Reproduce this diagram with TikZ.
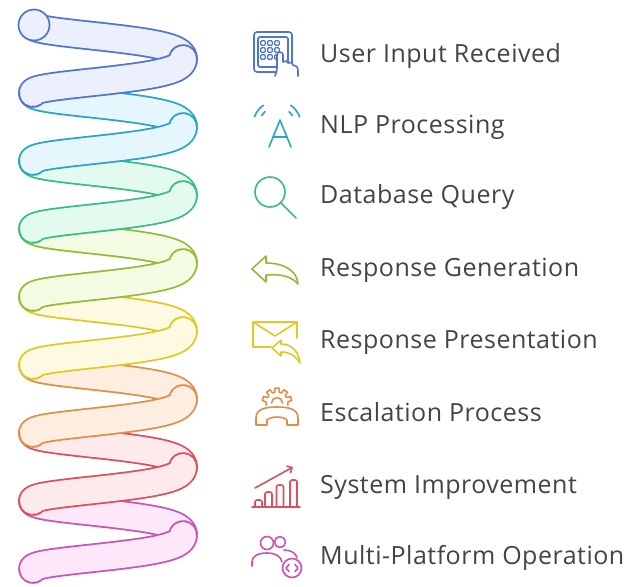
\documentclass[tikz,border=0pt]{standalone}
\usepackage{fontspec}
\setmainfont{Open Sans}[LetterSpace=2.0]
\usepackage{tikz}
\usetikzlibrary{arrows.meta, positioning}

\definecolor{coilBlue}{RGB}{79,116,209}
\definecolor{coilCyan}{RGB}{38,165,200}
\definecolor{coilGreen}{RGB}{58,188,136}
\definecolor{coilLime}{RGB}{146,188,52}
\definecolor{coilGold}{RGB}{222,202,32}
\definecolor{coilOrange}{RGB}{223,144,70}
\definecolor{coilRed}{RGB}{218,80,92}
\definecolor{coilPink}{RGB}{204,82,180}
\definecolor{blueFill}{RGB}{235,240,252}
\definecolor{cyanFill}{RGB}{229,247,253}
\definecolor{greenFill}{RGB}{227,250,238}
\definecolor{limeFill}{RGB}{243,252,226}
\definecolor{goldFill}{RGB}{254,250,225}
\definecolor{orangeFill}{RGB}{253,238,225}
\definecolor{redFill}{RGB}{253,234,236}
\definecolor{pinkFill}{RGB}{252,232,248}
\definecolor{labelText}{RGB}{68,68,68}

\tikzset{
    tubeedge/.style={line width=29.6pt, line cap=round, draw=#1},
    tubebody/.style={line width=26pt, line cap=round, draw=#1},
    icon/.style={draw=#1, line width=1.6pt, line cap=round, line join=round},
    lbl/.style={anchor=base west, inner sep=0pt, text=labelText, font=\fontsize{25}{29}\selectfont}
}

\begin{document}
\begin{tikzpicture}[x=1pt, y=-1pt]
    \useasboundingbox[fill=white] (0,0) rectangle (628,586);

    % spring: back halves first, then the front halves over them
    \foreach \col/\fil [count=\k from 0] in {coilBlue/blueFill, coilCyan/cyanFill, coilGreen/greenFill, coilLime/limeFill,
        coilGold/goldFill, coilOrange/orangeFill, coilRed/redFill, coilPink/pinkFill} {
        \pgfmathsetmacro\ta{(2*\k+1)*pi}
        \pgfmathsetmacro\tb{(2*\k+2)*pi}
        \draw[tubeedge=\col] plot[domain=\ta:\tb, samples=50, smooth, variable=\t]
            ({108+80*cos(\t r)-5*cos(3*\t r)}, {-9+10.8225*\t+4.5*sin(\t r)});
        \draw[tubebody=\fil] plot[domain=\ta:\tb, samples=50, smooth, variable=\t]
            ({108+80*cos(\t r)-5*cos(3*\t r)}, {-9+10.8225*\t+4.5*sin(\t r)});
    }
    \node[circle, draw=coilBlue, fill=blueFill, line width=1.7pt, minimum size=31pt, inner sep=0pt] (tubeEnd) at (34,25) {};
    \foreach \col/\fil [count=\k from 0] in {coilBlue/blueFill, coilCyan/cyanFill, coilGreen/greenFill, coilLime/limeFill,
        coilGold/goldFill, coilOrange/orangeFill, coilRed/redFill, coilPink/pinkFill} {
        \pgfmathsetmacro\ta{(2*\k+2)*pi}
        \pgfmathsetmacro\tb{(2*\k+3)*pi}
        \draw[tubeedge=\col] plot[domain=\ta:\tb, samples=50, smooth, variable=\t]
            ({108+80*cos(\t r)-5*cos(3*\t r)}, {-9+10.8225*\t+4.5*sin(\t r)});
        \draw[tubebody=\fil] plot[domain=\ta:\tb, samples=50, smooth, variable=\t]
            ({108+80*cos(\t r)-5*cos(3*\t r)}, {-9+10.8225*\t+4.5*sin(\t r)});
    }

    % keypad
    \begin{scope}[shift={(275,53)}]
        \draw[icon=coilBlue, rounded corners=3pt] (-21,-21) rectangle (17,19);
        \draw[icon=coilBlue, rounded corners=1.5pt] (-17,-16) rectangle (13,14);
        \foreach \kx in {-12,-5,2}
            \foreach \ky in {-10,-3,4}
                \draw[icon=coilBlue, line width=1.2pt, rounded corners=1pt] (\kx-2.3,\ky-2.3) rectangle ++(4.6,4.6);
        \draw[icon=coilBlue, fill=white] (0,23) .. controls (1,20) and (2,18) .. (2,15) -- (2,2) arc (180:360:3) -- (8,9)
            .. controls (10,7) and (13,8) .. (13,10) .. controls (15,8) and (18,10) .. (18,12)
            .. controls (21,12) and (23,14) .. (23,18) -- (23,23);
    \end{scope}

    % language
    \begin{scope}[shift={(276,126)}]
        \draw[icon=coilCyan] (-7,21) -- (4,-6) -- (15,21);
        \draw[icon=coilCyan] (-2.9,11) -- (10.9,11);
        \draw[icon=coilCyan] ([shift={(200:24)}]1,-1) arc (200:235:24);
        \draw[icon=coilCyan] ([shift={(305:24)}]1,-1) arc (305:340:24);
        \draw[icon=coilCyan] ([shift={(212:18)}]1,-1) arc (212:228:18);
        \draw[icon=coilCyan] ([shift={(312:18)}]1,-1) arc (312:328:18);
    \end{scope}

    % search
    \begin{scope}[shift={(275,197)}]
        \draw[icon=coilGreen] (-5,-5) circle (15);
        \draw[icon=coilGreen] (5.6,5.6) -- (21,21);
    \end{scope}

    % reply
    \begin{scope}[shift={(275,270)}]
        \draw[icon=coilLime] (-23,-1) -- (-9,-14) -- (-9,-7) .. controls (8,-7) and (22,0) .. (23,14)
            .. controls (16,6) and (6,4) .. (-9,5) -- (-9,12) -- cycle;
    \end{scope}

    % envelope with reply
    \begin{scope}[shift={(275,342)}]
        \draw[icon=coilGold] (-4,5) -- (-22,5) -- (-22,-20) -- (22,-20) -- (22,-4);
        \draw[icon=coilGold] (-22,-20) -- (0,-6) -- (22,-20);
        \draw[icon=coilGold] (-3,6) -- (6,-2) -- (6,2) .. controls (17,2) and (24,10) .. (25,21)
            .. controls (20,13) and (14,10) .. (6,10) -- (6,14) -- cycle;
    \end{scope}

    % gear and handset
    \begin{scope}[shift={(277,408)}]
        \begin{scope}[shift={(0,-5)}]
            \draw[icon=coilOrange] (168:11) \foreach \a in {198,234,270,306,342} { -- (\a-12:11) -- (\a-8:15) -- (\a+8:15) -- (\a+12:11) } -- (372:11);
            \draw[icon=coilOrange] (180:5.5) arc (180:360:5.5);
        \end{scope}
        \draw[icon=coilOrange, fill=white] (-10,17) -- (-21,17) -- (-21,10) .. controls (-21,1) and (-12,-1) .. (0,-1)
            .. controls (12,-1) and (21,1) .. (21,10) -- (21,17) -- (10,17) -- (10,12)
            .. controls (6,8) and (-6,8) .. (-10,12) -- cycle;
    \end{scope}

    % growth chart
    \begin{scope}[shift={(276,487)}]
        \draw[icon=coilRed] (-24,20) -- (24,20);
        \foreach \bx/\by in {-17.5/13, -7.5/5, 4/-2, 17.5/-7}
            \draw[icon=coilRed, rounded corners=2pt] (\bx-3.5,20) -- (\bx-3.5,\by) -- (\bx+3.5,\by) -- (\bx+3.5,20);
        \draw[icon=coilRed, -{Straight Barb[length=4pt, width=8pt]}] (-21,1) -- (17,-20);
    \end{scope}

    % users with code
    \begin{scope}[shift={(276,558)}]
        \draw[icon=coilPink] (4,-16) circle (5.5);
        \draw[icon=coilPink] (8,-8) .. controls (15,-8) and (20,-5) .. (21,0);
        \draw[icon=coilPink, fill=white] (-9,-15) circle (6.5);
        \draw[icon=coilPink] (-24,8) -- (-24,4) .. controls (-24,-2) and (-18,-5) .. (-9,-5)
            .. controls (-1,-5) and (5,-2) .. (6,4);
        \draw[icon=coilPink, fill=white] (16,10) circle (9.5);
        \draw[icon=coilPink] (13,6.5) -- (10,10) -- (13,13.5);
        \draw[icon=coilPink] (19,6.5) -- (22,10) -- (19,13.5);
    \end{scope}

    % step labels
    \foreach \nm/\txt/\yy in {input/User Input Received/62, nlp/NLP Processing/133, query/Database Query/203,
        generate/Response Generation/276, present/Response Presentation/348, escalate/Escalation Process/421,
        improve/System Improvement/493, platform/Multi-Platform Operation/564}
        \node[lbl] (\nm) at (320,\yy) {\txt};
\end{tikzpicture}
\end{document}
